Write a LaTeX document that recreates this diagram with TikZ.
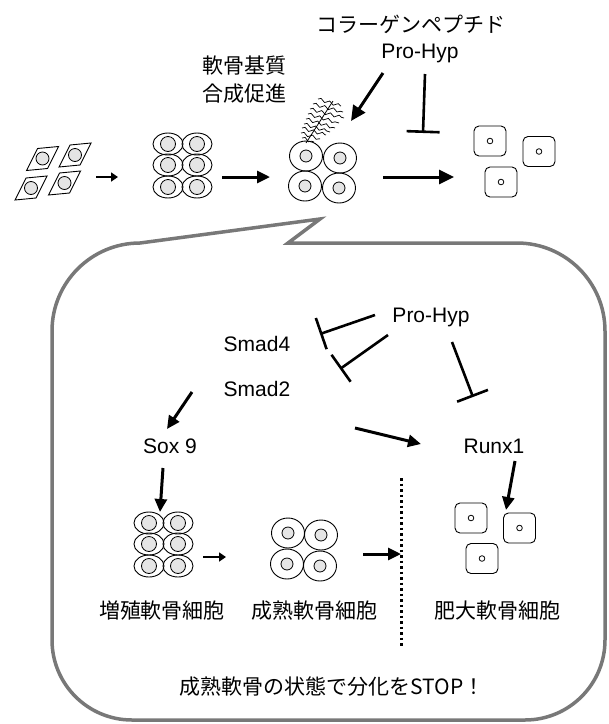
\documentclass[tikz,border=0pt]{standalone}
\usepackage{fontspec}
\setmainfont{Liberation Sans}
\newfontfamily\jpfont{Noto Sans CJK JP}
\usetikzlibrary{arrows.meta,decorations.pathmorphing}

\definecolor{bubblegray}{gray}{0.47}
\definecolor{nucgray}{gray}{0.90}

\begin{document}
\begin{tikzpicture}[x=1pt,y=-1pt,
  every node/.style={inner sep=0pt,font=\fontsize{21}{25}\selectfont},
  jp/.style={font=\fontsize{21}{25}\jpfont},
  lbl/.style={anchor=base},
  act/.style={line width=3pt,-{Triangle[length=15pt,width=14pt]}},
  actmid/.style={line width=3pt,-{Triangle[length=13pt,width=12pt]}},
  actsmall/.style={line width=2.6pt,-{Triangle[length=7pt,width=9pt]}},
  inh/.style={line width=2.6pt,-{Bar[width=33pt]}},
  cellline/.style={line width=0.9pt},
  nucleus/.style={line width=0.8pt,fill=nucgray},
  fiber/.style={line width=0.7pt,decorate,
    decoration={snake,amplitude=1.5pt,segment length=9pt}},
  bubble/.style={draw=bubblegray,line width=3.5pt,line join=miter},
  flat cell/.pic={
    \draw[cellline] (-5,-10) -- (16,-12) -- (5,10) -- (-16,12) -- cycle;
    \draw[nucleus] (0,0) circle[radius=6.5];},
  prolif cell/.pic={
    \draw[cellline] (0,0) ellipse[x radius=15,y radius=11];
    \draw[nucleus] (0,0) circle[radius=7.5];},
  mature cell/.pic={
    \draw[cellline] (0,0) ellipse[x radius=16.5,y radius=15];
    \draw[nucleus] (0,0) circle[radius=6];},
  hyper cell/.pic={
    \draw[cellline,rounded corners=5pt] (-16,-15) rectangle (16,15);
    \draw[line width=0.8pt] (0,0) circle[radius=2.8];}
]
\useasboundingbox (0,0) rectangle (609,724);

% ---------- upper row: differentiation sequence ----------
\foreach \px/\py in {42.5/158.5, 75/155, 31/188, 64.5/183}
  \pic at (\px,\py) {flat cell};
\foreach \cx in {168,197}
  \foreach \cy in {144,165,187}
    \pic at (\cx,\cy) {prolif cell};
\foreach \px/\py in {306/156, 340/158, 305/186, 339/188}
  \pic at (\px,\py) {mature cell};
\foreach \px/\py in {490/141, 539/151.5, 501/182}
  \pic at (\px,\py) {hyper cell};

% matrix fibres on the mature cells
\draw[line width=0.8pt] (333,101) -- (306,143);
\foreach \ax/\ay/\bx/\by in {318/99/341/106, 313/104/343/112, 310/109/344/118,
                   308/114/339/123, 306/119/335/128, 304/124/330/132,
                   302/128/326/135, 301/133/320/139, 302/138/314/142}
  \draw[fiber] (\ax,\ay) -- (\bx,\by);

\coordinate (s1a) at (96,177);  \coordinate (s1b) at (118,177);
\coordinate (s2a) at (222,177); \coordinate (s2b) at (270,177);
\coordinate (s3a) at (383,177); \coordinate (s3b) at (454,177);
\draw[actsmall] (s1a) -- (s1b);
\draw[actmid] (s2a) -- (s2b);
\draw[act] (s3a) -- (s3b);

\node[jp,lbl] (collagen) at (411,32) {コラーゲンペプチド};
\node[lbl] (prohypA) at (420,58) {Pro-Hyp};
\node[jp,lbl] (matrixA) at (244,73) {軟骨基質};
\node[jp,lbl] (matrixB) at (244,101) {合成促進};

\coordinate (pa1) at (383,73);  \coordinate (pa2) at (351,121);
\coordinate (pi1) at (425,74);  \coordinate (pi2) at (423,133);
\draw[act] (pa1) -- (pa2);
\draw[inh] (pi1) -- (pi2);

% ---------- speech bubble ----------
\draw[bubble] (288,243) -- (517,243) arc[start angle=-90,end angle=0,radius=88]
  -- (605,640) arc[start angle=0,end angle=90,radius=80]
  -- (132,720) arc[start angle=90,end angle=180,radius=80]
  -- (52,331) arc[start angle=180,end angle=270,radius=88]
  -- (320,219) -- cycle;

% ---------- signalling inside the bubble ----------
\node[lbl] (prohypB) at (431,322) {Pro-Hyp};
\node[lbl] (smad4) at (257,351) {Smad4};
\node[lbl] (smad2) at (257,396) {Smad2};
\node[lbl] (sox9) at (170,453) {Sox 9};
\node[lbl] (runx1) at (494,453) {Runx1};

\coordinate (i1a) at (375,315); \coordinate (i1b) at (320,334);
\coordinate (i2a) at (388,335); \coordinate (i2b) at (340,369);
\coordinate (i3a) at (452,342); \coordinate (i3b) at (473,397);
\draw[inh] (i1a) -- (i1b);
\draw[inh] (i2a) -- (i2b);
\draw[inh] (i3a) -- (i3b);

\coordinate (g1a) at (192,392); \coordinate (g1b) at (167,429);
\coordinate (g2a) at (355,428); \coordinate (g2b) at (421,444);
\coordinate (g3a) at (163,468); \coordinate (g3b) at (160,512);
\coordinate (g4a) at (515,461); \coordinate (g4b) at (506,510);
\draw[actmid] (g1a) -- (g1b);
\draw[actmid] (g2a) -- (g2b);
\draw[actmid] (g3a) -- (g3b);
\draw[actmid] (g4a) -- (g4b);

% lower cell stages
\foreach \cx in {149,178}
  \foreach \cy in {523,544,566}
    \pic at (\cx,\cy) {prolif cell};
\foreach \px/\py in {288/533, 321/535, 287/564, 320/566}
  \pic at (\px,\py) {mature cell};
\foreach \px/\py in {471/518, 519.5/528, 482/558.5}
  \pic at (\px,\py) {hyper cell};

\coordinate (l1a) at (203,557); \coordinate (l1b) at (226,557);
\coordinate (l2a) at (363,554); \coordinate (l2b) at (401,554);
\draw[actsmall] (l1a) -- (l1b);
\draw[actmid] (l2a) -- (l2b);

\coordinate (stopTop) at (401,478); \coordinate (stopBot) at (401,646);
\draw[line width=3pt,dash pattern=on 2.5pt off 3pt] (stopTop) -- (stopBot);

\node[jp,lbl] (stage1) at (162,618) {増殖軟骨細胞};
\node[jp,lbl] (stage2) at (314,618) {成熟軟骨細胞};
\node[jp,lbl] (stage3) at (497,618) {肥大軟骨細胞};
\node[jp,lbl] (stopmsg) at (332,694) {成熟軟骨の状態で分化をSTOP！};
\end{tikzpicture}
\end{document}
